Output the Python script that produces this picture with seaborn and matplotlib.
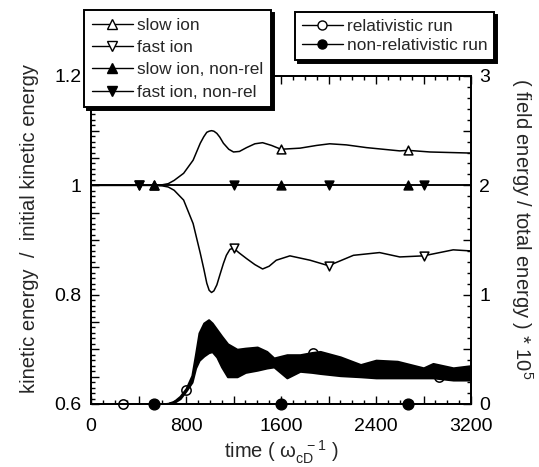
import numpy as np
import pandas as pd
import matplotlib
matplotlib.use("Agg")
import matplotlib.pyplot as plt
import seaborn as sns
from matplotlib.lines import Line2D
from matplotlib.ticker import MultipleLocator, FuncFormatter

sns.set_style("ticks")
plt.rcParams['font.family'] = ['Liberation Sans', 'DejaVu Sans']
plt.rcParams['mathtext.fontset'] = 'custom'
plt.rcParams['mathtext.rm'] = 'Liberation Sans'
plt.rcParams['mathtext.it'] = 'Liberation Sans'
plt.rcParams['mathtext.bf'] = 'Liberation Sans:bold'

# ---------------- data ----------------
# kinetic energy / initial kinetic energy, relativistic run
t_slow = [0, 500, 600, 650, 700, 780, 860, 920, 950, 975, 995, 1015, 1035,
          1060, 1085, 1115, 1160, 1200, 1250, 1310, 1380, 1445, 1520, 1600,
          1760, 1900, 2010, 2150, 2320, 2600, 2670, 2855, 3200]
slow_rel = [1.0, 1.0, 1.001, 1.003, 1.009, 1.022, 1.046, 1.077, 1.089, 1.097,
            1.099, 1.100, 1.099, 1.095, 1.088, 1.077, 1.066, 1.061, 1.062,
            1.069, 1.076, 1.078, 1.073, 1.066, 1.068, 1.073, 1.076, 1.074,
            1.069, 1.063, 1.064, 1.061, 1.059]
t_fast = [0, 500, 600, 650, 700, 780, 860, 920, 950, 975, 995, 1015, 1035,
          1060, 1085, 1115, 1140, 1170, 1200, 1250, 1310, 1380, 1445, 1500,
          1560, 1675, 1845, 2000, 2100, 2210, 2430, 2600, 2800, 3050, 3200]
fast_rel = [1.0, 1.0, 0.999, 0.997, 0.991, 0.973, 0.930, 0.876, 0.847, 0.821,
            0.808, 0.804, 0.807, 0.818, 0.836, 0.857, 0.872, 0.883, 0.885,
            0.876, 0.866, 0.855, 0.847, 0.852, 0.863, 0.871, 0.863, 0.853,
            0.862, 0.872, 0.877, 0.869, 0.871, 0.882, 0.880]
# non-relativistic run stays at 1
t_nonrel = [0, 3200]
slow_nonrel = [1.0, 1.0]
fast_nonrel = [1.0, 1.0]

# marker positions
slow_mk_t = [533, 1600, 2667]
slow_rel_mk = [1.0, 1.066, 1.064]
slow_nonrel_mk = [1.0, 1.0, 1.0]
fast_mk_t = [400, 1200, 2000, 2800]
fast_rel_mk = [1.0, 0.885, 0.853, 0.871]
fast_nonrel_mk = [1.0, 1.0, 1.0, 1.0]

# (field energy / total energy) * 1e5, relativistic run: envelope of the oscillating band
t_band = [0, 600, 650, 700, 750, 800, 850, 880, 910, 950, 990, 1020, 1060,
          1100, 1150, 1230, 1300, 1400, 1480, 1540, 1650, 1760, 1860, 1930,
          2100, 2270, 2400, 2580, 2800, 2880, 3050, 3200]
band_upper = [0.0, 0.0, 0.006, 0.025, 0.07, 0.14, 0.26, 0.45, 0.65, 0.74,
              0.77, 0.74, 0.68, 0.62, 0.55, 0.50, 0.51, 0.52, 0.48, 0.42,
              0.45, 0.45, 0.47, 0.48, 0.43, 0.36, 0.40, 0.39, 0.33, 0.37,
              0.33, 0.35]
band_lower = [0.0, 0.0, 0.003, 0.015, 0.05, 0.12, 0.20, 0.33, 0.40, 0.44,
              0.47, 0.48, 0.43, 0.34, 0.25, 0.25, 0.29, 0.31, 0.33, 0.34,
              0.24, 0.30, 0.29, 0.28, 0.26, 0.25, 0.24, 0.24, 0.24, 0.24,
              0.22, 0.22]
rel_mk_t = [267, 800, 1333, 1867, 2400, 2933]
rel_mk = [0.0, 0.13, 0.40, 0.463, 0.30, 0.25]
# non-relativistic run: field energy stays at 0
t_field_nonrel = [0, 3200]
field_nonrel = [0.0, 0.0]
nonrel_mk_t = [533, 1600, 2667]
nonrel_mk = [0.0, 0.0, 0.0]

# ---------------- figure ----------------
W, H = 539, 467
fig = plt.figure(figsize=(W / 100, H / 100), dpi=100)
ax = fig.add_axes([91 / W, 1 - 404 / H, 380 / W, 328 / H])
ax2 = ax.twinx()

lw = 1.1
sns.lineplot(x=t_slow, y=slow_rel, ax=ax, color='black', lw=lw, estimator=None, sort=False, zorder=2)
sns.lineplot(x=t_fast, y=fast_rel, ax=ax, color='black', lw=lw, estimator=None, sort=False, zorder=2)
sns.lineplot(x=t_nonrel, y=slow_nonrel, ax=ax, color='black', lw=lw, estimator=None, sort=False, zorder=2)
sns.lineplot(x=t_nonrel, y=fast_nonrel, ax=ax, color='black', lw=lw, estimator=None, sort=False, zorder=2)

ms = 40
sns.scatterplot(x=slow_mk_t, y=slow_rel_mk, ax=ax, marker='^', s=ms, color='white',
                edgecolor='black', linewidth=1.1, zorder=3)
sns.scatterplot(x=fast_mk_t, y=fast_rel_mk, ax=ax, marker='v', s=ms, color='white',
                edgecolor='black', linewidth=1.1, zorder=3)
sns.scatterplot(x=slow_mk_t, y=slow_nonrel_mk, ax=ax, marker='^', s=ms, color='black',
                edgecolor='black', linewidth=1.1, zorder=4)
sns.scatterplot(x=fast_mk_t, y=fast_nonrel_mk, ax=ax, marker='v', s=ms, color='black',
                edgecolor='black', linewidth=1.1, zorder=4)

# field energy on right axis
sns.scatterplot(x=rel_mk_t, y=rel_mk, ax=ax2, marker='o', s=45, color='white',
                edgecolor='black', linewidth=1.1, zorder=2, clip_on=False)
ax2.fill_between(t_band, band_lower, band_upper, color='black', lw=1.6, zorder=3)
sns.lineplot(x=t_field_nonrel, y=field_nonrel, ax=ax2, color='black', lw=lw, estimator=None,
             sort=False, zorder=3, clip_on=False)
sns.scatterplot(x=nonrel_mk_t, y=nonrel_mk, ax=ax2, marker='o', s=60, color='black',
                edgecolor='black', linewidth=1.0, zorder=4, clip_on=False)

# ---------------- axes ----------------
ax.set_xlim(0, 3200)
ax.set_ylim(0.6, 1.2)
ax2.set_ylim(0, 3)

ax.xaxis.set_major_locator(MultipleLocator(400))
ax.xaxis.set_minor_locator(MultipleLocator(100))
ax.xaxis.set_major_formatter(FuncFormatter(
    lambda v, p: f"{int(round(v))}" if int(round(v)) % 800 == 0 else ""))
ax.yaxis.set_major_locator(MultipleLocator(0.05))
ax.yaxis.set_minor_locator(MultipleLocator(0.01))


def lfmt(v, p):
    k = int(round(v * 20))
    if k % 4 != 0:
        return ""
    if abs(v - 1) < 1e-6:
        return "1"
    return f"{v:.1f}"


ax.yaxis.set_major_formatter(FuncFormatter(lfmt))
ax2.yaxis.set_major_locator(MultipleLocator(0.5))
ax2.yaxis.set_minor_locator(MultipleLocator(0.1))
ax2.yaxis.set_major_formatter(FuncFormatter(
    lambda v, p: f"{int(round(v))}" if abs(v - round(v)) < 1e-6 else ""))

ax.tick_params(which='both', direction='in', top=True, right=False, width=1.0,
               labelsize=14, color='black', labelcolor='black')
ax.tick_params(which='major', length=5.5)
ax.tick_params(which='minor', length=3)
ax.tick_params(axis='x', pad=10)
ax.tick_params(axis='y', pad=7)
ax2.tick_params(which='both', direction='in', right=True, left=False, width=1.0,
                labelsize=14, pad=6, color='black', labelcolor='black')
ax2.tick_params(which='major', length=5.5)
ax2.tick_params(which='minor', length=3)

for a in (ax, ax2):
    for s in a.spines.values():
        s.set_linewidth(1.3)
        s.set_color('black')
        s.set_visible(True)

ax.set_xlabel(r"time ( $\omega_{cD}^{\ \ -1}$ )", fontsize=14.5, labelpad=3)
ax.set_ylabel("kinetic energy  /  initial kinetic energy", fontsize=14.5,
              rotation=90, rotation_mode='anchor', ha='center', va='center')
ax.yaxis.set_label_coords((30 - 91) / 380, 0.535)
ax2.set_ylabel(r"( field energy / total energy ) * 10$^5$", fontsize=14.5,
               rotation=270, rotation_mode='anchor', ha='center', va='center')
ax2.yaxis.set_label_coords((522 - 91) / 380, 0.535)

# ---------------- legends ----------------
def h(marker, face):
    return Line2D([0], [0], color='black', lw=1.0, marker=marker, markersize=6.5,
                  markerfacecolor=face, markeredgecolor='black', markeredgewidth=1.0)


leg_kw = dict(frameon=True, fancybox=False, framealpha=1, edgecolor='black',
              shadow={'color': 'black', 'alpha': 1}, fontsize=12.4,
              handlelength=2.4, handletextpad=0.25,
              borderaxespad=0, loc='upper left')

leg1 = fig.legend([h('^', 'white'), h('v', 'white'), h('^', 'black'), h('v', 'black')],
                  ['slow ion', 'fast ion', 'slow ion, non-rel', 'fast ion, non-rel'],
                  bbox_to_anchor=(84 / W, 1 - 10 / H), labelspacing=0.42,
                  borderpad=0.45, **leg_kw)
leg1.get_frame().set_linewidth(1.4)
leg2 = fig.legend([h('o', 'white'), h('o', 'black')],
                  ['relativistic run', 'non-relativistic run'],
                  bbox_to_anchor=(295 / W, 1 - 12 / H), labelspacing=0.28,
                  borderpad=0.38, **leg_kw)
leg2.get_frame().set_linewidth(1.4)
for lg in (leg1, leg2):
    lg.set_zorder(10)

fig.savefig("out.png", dpi=100)
